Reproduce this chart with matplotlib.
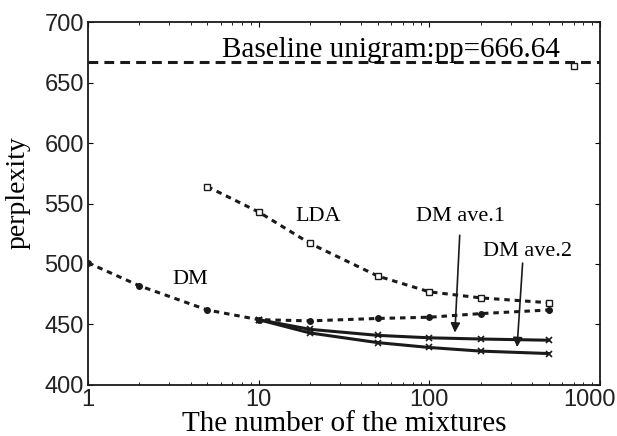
import matplotlib.pyplot as plt
from matplotlib.transforms import ScaledTranslation

# values
k_dm = [1, 2, 5, 10, 20, 50, 100, 200, 500]
pp_dm = [501, 482, 462, 454, 453, 455, 456, 459, 462]

k_lda = [5, 10, 20, 50, 100, 200, 500]
pp_lda = [564, 543, 517, 490, 477, 472, 468]

k_ave = [10, 20, 50, 100, 200, 500]
pp_ave1 = [454, 446, 441, 439, 438, 437]
pp_ave2 = [454, 443, 435, 431, 428, 426]

baseline = 666.64
k_base_mark = [700]
pp_base_mark = [664]

ink = "#1a1a1a"
serif = "Liberation Serif"

fig = plt.figure(figsize=(6.17, 4.36), dpi=100)
ax = fig.add_axes([0.1426, 0.117, 0.8298, 0.8325])

ax.axhline(baseline, color=ink, lw=2.2, dashes=(3.2, 2.0))
ax.plot(k_base_mark, pp_base_mark, ls="none", marker="s", ms=4, mfc="white", mec=ink, mew=1)

ax.plot(k_lda, pp_lda, color=ink, lw=2.2, dashes=(1.8, 1.6),
        marker="s", ms=4.5, mfc="white", mec=ink, mew=1)
ax.plot(k_dm, pp_dm, color=ink, lw=2.2, dashes=(1.8, 1.6),
        marker="o", ms=4, mfc=ink, mec=ink)
ax.plot(k_ave, pp_ave1, color=ink, lw=2.2, marker="x", ms=4, mew=1.2)
ax.plot(k_ave, pp_ave2, color=ink, lw=2.2, marker="x", ms=4, mew=1.2)

ax.text(59.6, 677, "Baseline unigram:pp=666.64", family=serif, fontsize=21,
        ha="center", va="center")
ax.text(22.2, 539, "LDA", family=serif, fontsize=16, ha="center", va="center")
ax.text(3.96, 487, "DM", family=serif, fontsize=16, ha="center", va="center")

arrow = dict(arrowstyle="-|>", color=ink, lw=1.2, mutation_scale=14)
ax.annotate("", xy=(141, 441), xytext=(151, 526), arrowprops=arrow)
ax.annotate("", xy=(326, 429), xytext=(353, 503), arrowprops=arrow)
ax.text(153, 539, "DM ave.1", family=serif, fontsize=16, ha="center", va="center")
ax.text(378, 510, "DM ave.2", family=serif, fontsize=16, ha="center", va="center")

ax.set_xscale("log")
ax.set_xlim(1, 1000)
ax.set_ylim(400, 700)
ax.set_yticks(range(400, 701, 50))
ax.set_xticks([1, 10, 100, 1000])
ax.set_xticklabels(["1", "10", "100", "1000"])

ax.tick_params(which="both", direction="in", top=True, right=True,
               labelsize=17, pad=3)
for lab in ax.get_xticklabels() + ax.get_yticklabels():
    lab.set_family("Liberation Sans")
    lab.set_color("#222222")
# the last x label sits a little to the left so it stays inside the picture
last = ax.get_xticklabels()[-1]
last.set_transform(last.get_transform() + ScaledTranslation(-0.1, 0, fig.dpi_scale_trans))
for s in ax.spines.values():
    s.set_linewidth(1.3)
    s.set_color(ink)

ax.set_xlabel("The number of the mixtures", family=serif, fontsize=21, labelpad=0)
ax.set_ylabel("perplexity", family=serif, fontsize=20)
ax.yaxis.set_label_coords(-0.112, 0.529)

fig.savefig("out.png", dpi=100)
